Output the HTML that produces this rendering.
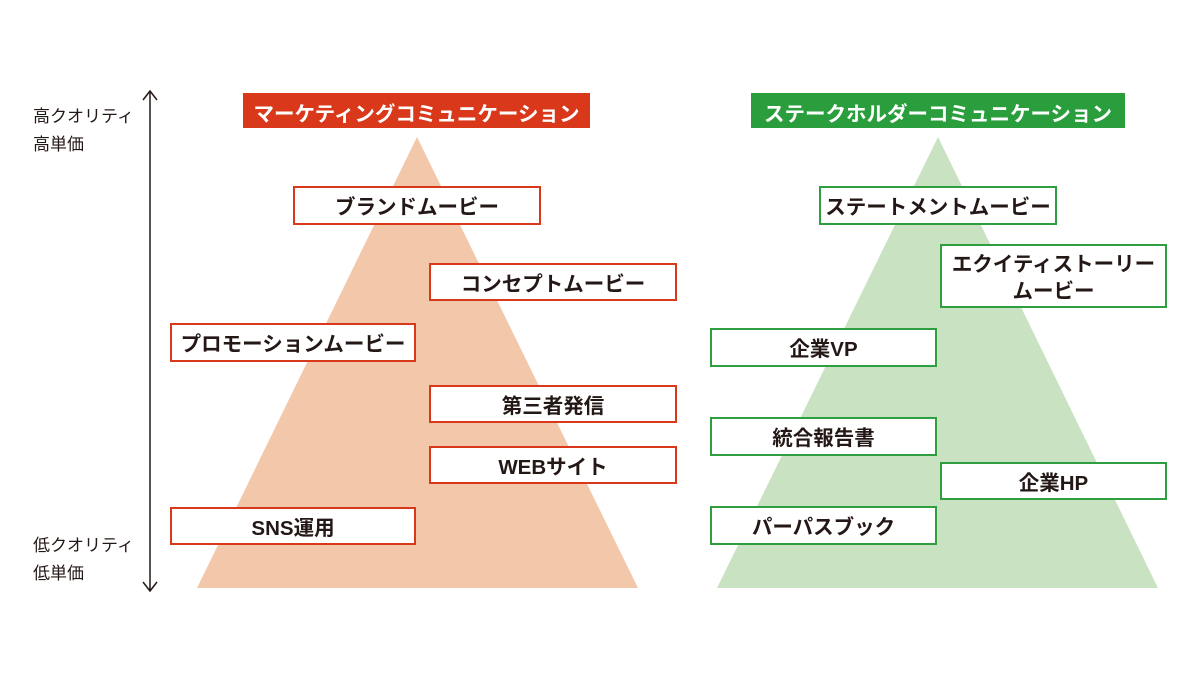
<!DOCTYPE html>
<html><head><meta charset="utf-8"><style>
body{margin:0;width:1200px;height:675px;background:#fff;position:relative;overflow:hidden;font-family:"Liberation Sans","Noto Sans CJK JP",sans-serif;}
.b{position:absolute;box-sizing:border-box;background:#fff;display:flex;align-items:center;justify-content:center;text-align:center;font-size:20.5px;font-weight:bold;color:#231815;line-height:27px;padding-top:4px;}
.r{border:2px solid #d9391a;}
.g{border:2px solid #2e9e3e;}
.h{position:absolute;color:#fff;font-size:20.5px;font-weight:bold;display:flex;align-items:center;justify-content:center;height:35px;top:93px;box-sizing:border-box;padding-top:3px;}
.l{position:absolute;left:33px;font-size:17px;color:#231815;line-height:28px;}
</style></head><body>
<svg width="1200" height="675" style="position:absolute;left:0;top:0">
<polygon points="417,137 638,588 197,588" fill="#f3c7aa"/>
<polygon points="938,137 1158,588 717,588" fill="#c9e2c2"/>
<line x1="150" y1="91" x2="150" y2="591" stroke="#231815" stroke-width="1.5"/>
<polyline points="143,100 150,91 157,100" fill="none" stroke="#231815" stroke-width="1.5"/>
<polyline points="143,582 150,591 157,582" fill="none" stroke="#231815" stroke-width="1.5"/>
</svg>
<div class="l" style="top:103px">高クオリティ<br>高単価</div>
<div class="l" style="top:532px">低クオリティ<br>低単価</div>
<div class="h" style="left:243px;width:347px;background:#d9391a">マーケティングコミュニケーション</div>
<div class="h" style="left:751px;width:374px;background:#2a9e3c">ステークホルダーコミュニケーション</div>
<div class="b r" style="left:293px;top:186px;width:248px;height:39px">ブランドムービー</div>
<div class="b r" style="left:429px;top:263px;width:248px;height:38px">コンセプトムービー</div>
<div class="b r" style="left:170px;top:323px;width:246px;height:39px">プロモーションムービー</div>
<div class="b r" style="left:429px;top:385px;width:248px;height:38px">第三者発信</div>
<div class="b r" style="left:429px;top:446px;width:248px;height:38px">WEBサイト</div>
<div class="b r" style="left:170px;top:507px;width:246px;height:38px">SNS運用</div>
<div class="b g" style="left:819px;top:186px;width:238px;height:39px">ステートメントムービー</div>
<div class="b g" style="left:940px;top:244px;width:227px;height:64px">エクイティストーリー<br>ムービー</div>
<div class="b g" style="left:710px;top:328px;width:227px;height:39px">企業VP</div>
<div class="b g" style="left:710px;top:417px;width:227px;height:39px">統合報告書</div>
<div class="b g" style="left:940px;top:462px;width:227px;height:38px">企業HP</div>
<div class="b g" style="left:710px;top:506px;width:227px;height:39px">パーパスブック</div>
</body></html>
